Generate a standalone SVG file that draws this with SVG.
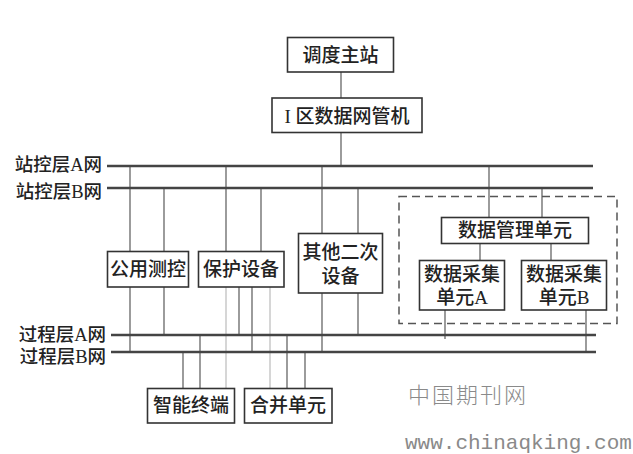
<svg xmlns="http://www.w3.org/2000/svg" width="633" height="454" viewBox="0 0 633 454">
<style>
.box{fill:#fff;stroke:#333;stroke-width:1.6}
.t{font-family:"Liberation Serif","Noto Sans CJK SC",serif;font-size:19px;font-weight:500;fill:#222;text-anchor:middle}
.lbl{font-family:"Liberation Serif","Noto Sans CJK SC",serif;font-size:18.5px;font-weight:500;fill:#222;text-anchor:end}
.v{stroke:#666;stroke-width:1.3;fill:none}
.vl{stroke:#c8c8c8;stroke-width:1.5;fill:none}
.bus{stroke:#444;stroke-width:2.5;fill:none}
.dash{fill:none;stroke:#555;stroke-width:1.5;stroke-dasharray:8 5}
</style>
<rect width="633" height="454" fill="#fff"/>
<g id="connectors">
  <line class="v" x1="341" y1="72" x2="341" y2="98"/>
  <line class="v" x1="341" y1="132" x2="341" y2="166"/>
  <line class="v" x1="130" y1="166" x2="130" y2="251"/>
  <line class="v" x1="226" y1="166" x2="226" y2="251"/>
  <line class="v" x1="322" y1="166" x2="322" y2="233"/>
  <line class="v" x1="489" y1="166" x2="489" y2="217"/>
  <line class="v" x1="164" y1="188" x2="164" y2="251"/>
  <line class="v" x1="261" y1="188" x2="261" y2="251"/>
  <line class="v" x1="358" y1="188" x2="358" y2="233"/>
  <line class="v" x1="542" y1="188" x2="542" y2="217"/>
  <line class="v" x1="480" y1="243" x2="480" y2="260"/>
  <line class="v" x1="551" y1="243" x2="551" y2="260"/>
  <line class="v" x1="130" y1="287" x2="130" y2="352"/>
  <line class="v" x1="164" y1="287" x2="164" y2="335"/>
  <line class="v" x1="239" y1="287" x2="239" y2="335"/>
  <line class="v" x1="252" y1="287" x2="252" y2="352"/>
  <line class="vl" x1="226" y1="287" x2="226" y2="388"/>
  <line class="vl" x1="270" y1="287" x2="270" y2="388"/>
  <line class="v" x1="322" y1="293" x2="322" y2="352"/>
  <line class="v" x1="358" y1="293" x2="358" y2="335"/>
  <line class="v" x1="445" y1="310" x2="445" y2="339"/>
  <line class="v" x1="586" y1="310" x2="586" y2="352"/>
  <line class="v" x1="183" y1="352" x2="183" y2="388"/>
  <line class="v" x1="200" y1="335" x2="200" y2="388"/>
  <line class="v" x1="287" y1="335" x2="287" y2="388"/>
  <line class="v" x1="305" y1="352" x2="305" y2="388"/>
  <line class="bus" x1="107" y1="166" x2="593" y2="166"/>
  <line class="bus" x1="107" y1="188" x2="593" y2="188"/>
  <line class="bus" x1="111" y1="335" x2="596" y2="335"/>
  <line class="bus" x1="111" y1="352" x2="596" y2="352"/>
</g>
<g id="labels">
  <text class="lbl" x="102" y="171">站控层A网</text>
  <text class="lbl" x="102" y="198">站控层B网</text>
  <text class="lbl" x="106" y="341">过程层A网</text>
  <text class="lbl" x="106" y="363">过程层B网</text>
</g>
<g id="group-data">
  <rect class="dash" x="399" y="196.5" width="218" height="127"/>
</g>
<g id="n-ddzz">
  <rect class="box" x="287.5" y="37.5" width="106" height="34.5"/>
  <text class="t" x="340.5" y="61.5">调度主站</text>
</g>
<g id="n-iqu">
  <rect class="box" x="272" y="98" width="150" height="34.5"/>
  <text class="t" x="347" y="122.5">I 区数据网管机</text>
</g>
<g id="n-gyck">
  <rect class="box" x="107.5" y="251.5" width="81" height="35.5"/>
  <text class="t" x="148" y="275.5">公用测控</text>
</g>
<g id="n-bhsb">
  <rect class="box" x="198.5" y="251.5" width="85.5" height="35.5"/>
  <text class="t" x="241" y="275.5">保护设备</text>
</g>
<g id="n-qtec">
  <rect class="box" x="298.5" y="233.5" width="84" height="59.5"/>
  <text class="t" x="340.5" y="258.5">其他二次</text>
  <text class="t" x="340.5" y="283">设备</text>
</g>
<g id="n-sjgl">
  <rect class="box" x="441.5" y="217.5" width="147" height="26"/>
  <text class="t" x="515" y="236.5">数据管理单元</text>
</g>
<g id="n-cja">
  <rect class="box" x="419.5" y="260.5" width="85" height="49.5"/>
  <text class="t" x="462" y="280.5">数据采集</text>
  <text class="t" x="462" y="303.5">单元A</text>
</g>
<g id="n-cjb">
  <rect class="box" x="521.5" y="260.5" width="85" height="49.5"/>
  <text class="t" x="564" y="280.5">数据采集</text>
  <text class="t" x="564" y="303.5">单元B</text>
</g>
<g id="n-znzd">
  <rect class="box" x="147.5" y="388.5" width="87" height="34.5"/>
  <text class="t" x="191" y="412">智能终端</text>
</g>
<g id="n-hbdy">
  <rect class="box" x="244.5" y="388.5" width="87.5" height="34.5"/>
  <text class="t" x="288" y="412">合并单元</text>
</g>
<g id="watermark">
  <text x="408" y="403" font-family="Noto Sans CJK SC,sans-serif" font-weight="300" font-size="22" letter-spacing="2" fill="#8a8a8a">中国期刊网</text>
  <text x="405" y="449" font-family="Liberation Mono,monospace" font-size="21" fill="#8a8a8a">www.chinaqking.com</text>
</g>
</svg>
